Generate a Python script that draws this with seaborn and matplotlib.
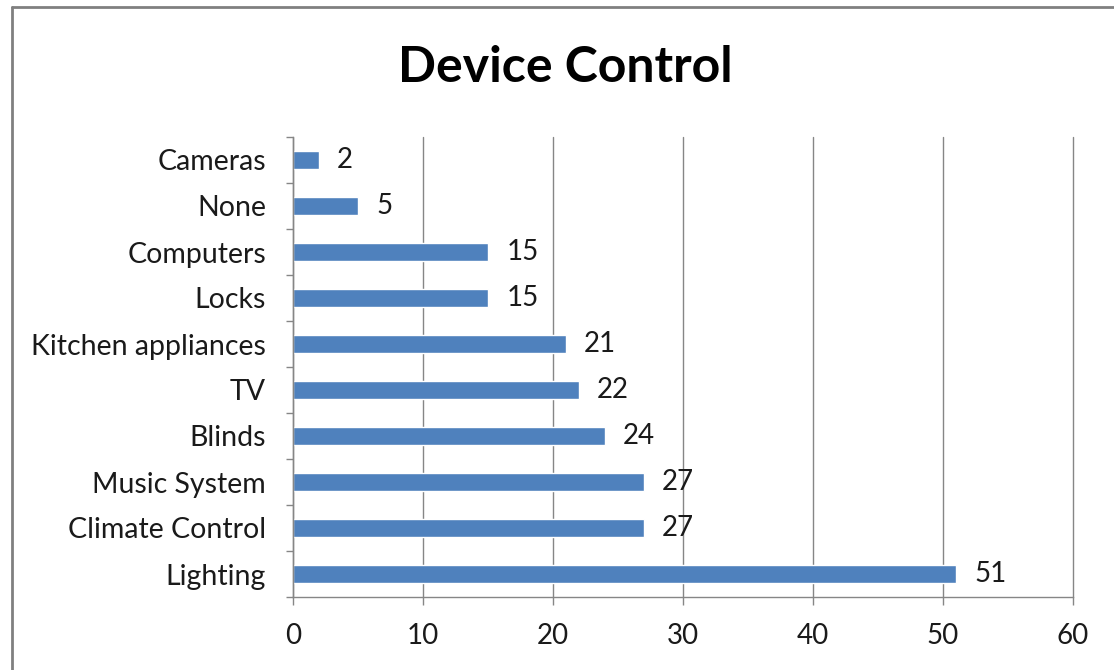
import matplotlib
matplotlib.use("Agg")
import matplotlib.pyplot as plt
import seaborn as sns
import numpy as np
import pandas as pd
from matplotlib.lines import Line2D

# data, top to bottom as shown
devices = ["Cameras", "None", "Computers", "Locks", "Kitchen appliances",
           "TV", "Blinds", "Music System", "Climate Control", "Lighting"]
counts = [2, 5, 15, 15, 21, 22, 24, 27, 27, 51]
x_ticks = [0, 10, 20, 30, 40, 50, 60]

BAR_COLOR = "#4F81BD"
GRID_COLOR = "#868686"
TEXT_COLOR = "#1a1a1a"

sns.set_style("white")
plt.rcParams['font.family'] = ['Lato', 'DejaVu Sans']

df = pd.DataFrame({"device": devices, "count": counts})

fig = plt.figure(figsize=(11.14, 6.70), dpi=100)
ax = fig.add_axes([293 / 1114, 1 - 597 / 670, 780 / 1114, 460 / 670])

sns.barplot(data=df, y="device", x="count", orient="h", color=BAR_COLOR,
            width=0.4, saturation=1, ax=ax)

ax.set_xlim(0, 60)
ax.set_ylim(len(devices) - 0.5, -0.5)
ax.set_xticks(x_ticks)
ax.set_xlabel("")
ax.set_ylabel("")

# vertical gridlines
ax.grid(axis="x", color=GRID_COLOR, linewidth=1.0)
for gl in ax.get_xgridlines():
    gl.set_clip_on(False)
ax.set_axisbelow(True)

for side in ["top", "right"]:
    ax.spines[side].set_visible(False)
for side in ["left", "bottom"]:
    ax.spines[side].set_color(GRID_COLOR)
    ax.spines[side].set_linewidth(1.0)

# category ticks between bars (Excel style)
ax.set_yticks(np.arange(-0.5, len(devices)), minor=True)
ax.tick_params(axis="y", which="major", left=False, length=0, pad=19.5,
               labelsize=20.5, labelcolor=TEXT_COLOR)
ax.tick_params(axis="y", which="minor", left=True, length=5,
               color=GRID_COLOR, width=1.0)
ax.tick_params(axis="x", which="major", bottom=True, length=6,
               color=GRID_COLOR, width=1.0, pad=13, labelsize=20,
               labelcolor=TEXT_COLOR)

# value labels
for i, v in enumerate(counts):
    ax.text(v + 1.4, i, str(v), va="center", ha="left", fontsize=20,
            color=TEXT_COLOR)

fig.text(565 / 1114, 1 - 68 / 670, "Device Control", ha="center", va="center",
         fontsize=36, fontweight="bold", color="black")

# outer chart frame (left and top edges visible)
fig.add_artist(Line2D([12 / 1114, 12 / 1114], [0, 1 - 7 / 670],
                      transform=fig.transFigure, color="#808080", linewidth=2))
fig.add_artist(Line2D([12 / 1114, 1], [1 - 7 / 670, 1 - 7 / 670],
                      transform=fig.transFigure, color="#808080", linewidth=2))

fig.savefig("out.png", dpi=100, facecolor="white")
